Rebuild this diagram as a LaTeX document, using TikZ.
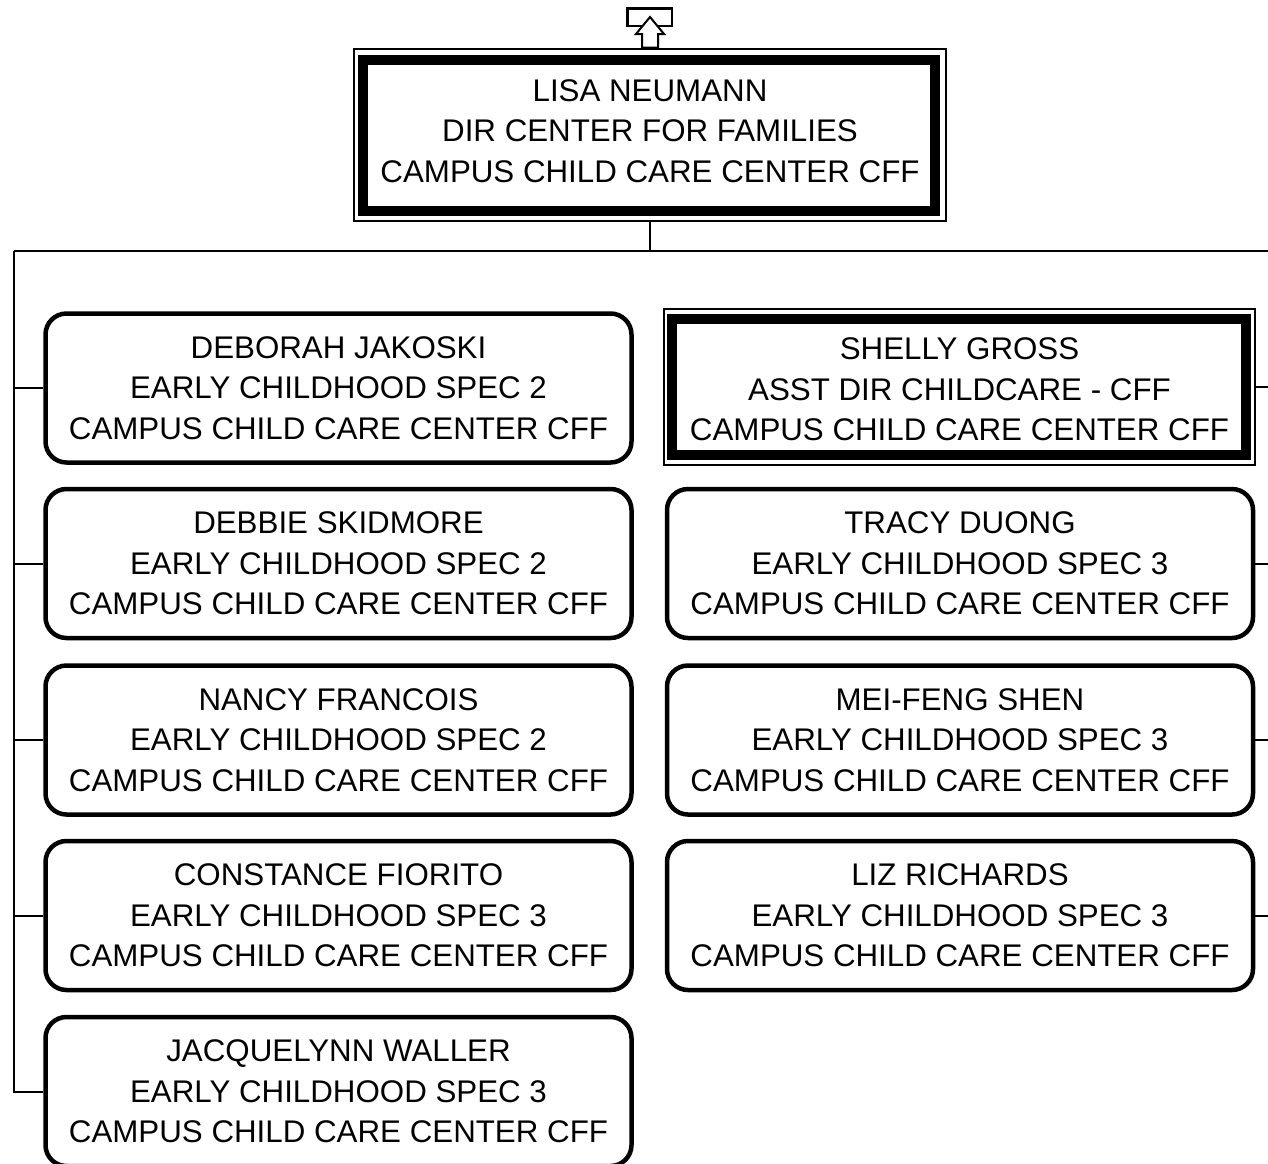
\documentclass[tikz,border=0pt]{standalone}
\usepackage{fontspec}
\setmainfont{Liberation Sans}
\begin{document}
\begin{tikzpicture}[x=1pt,y=-1pt,
  txt/.style={font=\fontsize{31.3}{40.5}\selectfont, align=center, inner sep=0pt},
  emp/.style={txt, draw, line width=4.5pt, rounded corners=21pt, minimum width=586pt, minimum height=149pt},
  frame/.style={txt, draw, line width=2.8pt},
  band/.style={line width=10pt},
  con/.style={line width=2pt}]
\fill[white] (0,0) rectangle (1268,1163);
\useasboundingbox (0,0) rectangle (1268,1163);
\clip (0,0) rectangle (1268,1163);

% top manager
\node[frame, minimum width=592pt, minimum height=172pt] (lisa) at (650,135) {};
\draw[band] ([shift={(10.5,12)}]lisa.north west) rectangle ([shift={(-12,-11)}]lisa.south east);
\node[txt] (lisatxt) at (650,131)
  {LISA NEUMANN\\DIR CENTER FOR FAMILIES\\CAMPUS CHILD CARE CENTER CFF};

% up-link marker
\node[draw, line width=2.5pt, minimum width=44.5pt, minimum height=17.5pt, inner sep=0pt] (uplink) at (649.5,17) {};
\filldraw[fill=white, line width=2pt] (650,17) -- (664,34) -- (658,34) -- (lisa.north -| 658,0) -- (lisa.north -| 642,0) -- (642,34) -- (636,34) -- cycle;

% assistant director
\node[frame, minimum width=591pt, minimum height=156pt] (s1) at (959.5,387) {};
\draw[band] ([shift={(9.5,11)}]s1.north west) rectangle ([shift={(-10.5,-11.5)}]s1.south east);
\node[txt] (s1txt) at (959.5,389.5)
  {SHELLY GROSS\\ASST DIR CHILDCARE - CFF\\CAMPUS CHILD CARE CENTER CFF};

% left column
\node[emp] (e1) at (338.5,388)  {DEBORAH JAKOSKI\\EARLY CHILDHOOD SPEC 2\\CAMPUS CHILD CARE CENTER CFF};
\node[emp] (e2) at (338.5,563.5){DEBBIE SKIDMORE\\EARLY CHILDHOOD SPEC 2\\CAMPUS CHILD CARE CENTER CFF};
\node[emp] (e3) at (338.5,740)  {NANCY FRANCOIS\\EARLY CHILDHOOD SPEC 2\\CAMPUS CHILD CARE CENTER CFF};
\node[emp] (e4) at (338.5,915.5){CONSTANCE FIORITO\\EARLY CHILDHOOD SPEC 3\\CAMPUS CHILD CARE CENTER CFF};
\node[emp] (e5) at (338.5,1091.5){JACQUELYNN WALLER\\EARLY CHILDHOOD SPEC 3\\CAMPUS CHILD CARE CENTER CFF};

% right column
\node[emp] (s2) at (960,563.5){TRACY DUONG\\EARLY CHILDHOOD SPEC 3\\CAMPUS CHILD CARE CENTER CFF};
\node[emp] (s3) at (960,740)  {MEI-FENG SHEN\\EARLY CHILDHOOD SPEC 3\\CAMPUS CHILD CARE CENTER CFF};
\node[emp] (s4) at (960,915.5){LIZ RICHARDS\\EARLY CHILDHOOD SPEC 3\\CAMPUS CHILD CARE CENTER CFF};

% connectors
\coordinate (busL) at (14,251);
\coordinate (busR) at (1268,251);
\draw[con] (lisa.south) -- (lisa.south |- busL);
\draw[con] (busL) -- (busR);
\draw[con] (busL) |- (e5.west);
\foreach \n in {e1,e2,e3,e4}
  \draw[con] (busL |- \n.west) -- (\n.west);
\foreach \n in {s1,s2,s3,s4}
  \draw[con] (\n.east) -- (busR |- \n.east);
\end{tikzpicture}
\end{document}
